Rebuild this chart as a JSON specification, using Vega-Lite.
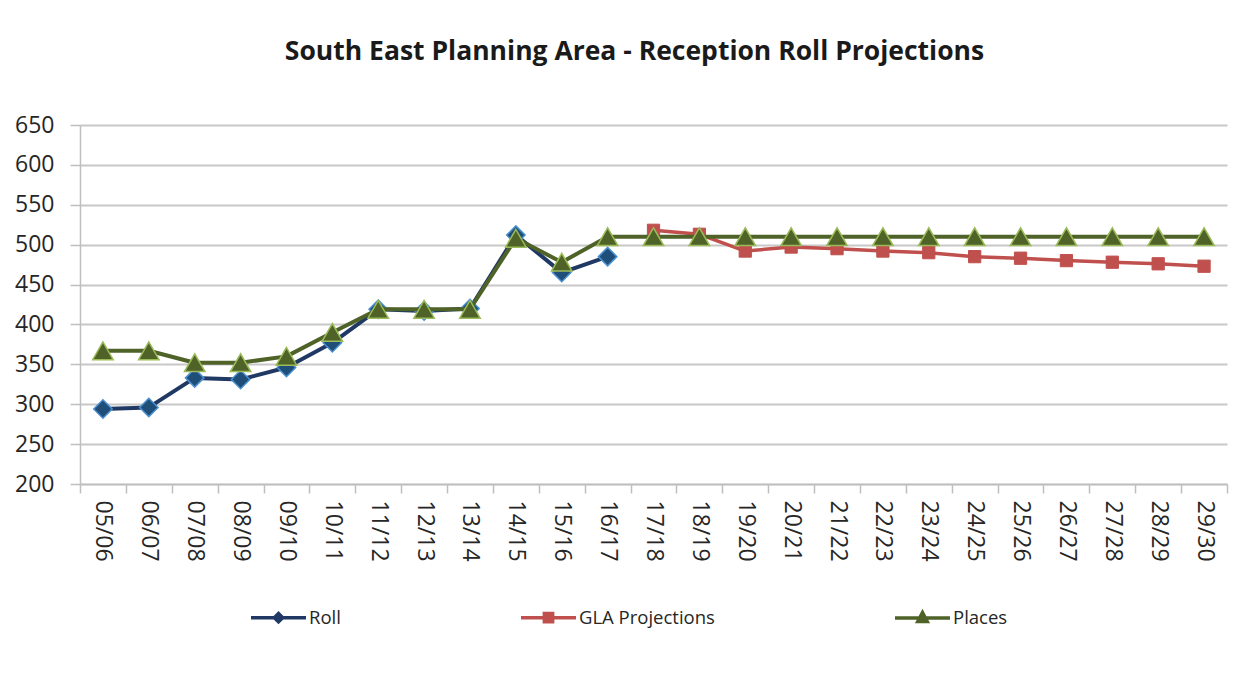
{
  "$schema": "https://vega.github.io/schema/vega-lite/v6.json",
  "width": 1147,
  "height": 359,
  "autosize": {"type": "none"},
  "padding": {"left": 80, "top": 125, "right": 24, "bottom": 195},
  "background": "white",
  "title": {
    "text": "South East Planning Area - Reception Roll Projections",
    "font": "Open Sans",
    "fontSize": 26.5,
    "fontWeight": "bold",
    "color": "#1a1a1a",
    "anchor": "middle",
    "dx": -19,
    "offset": 49
  },
  "data": {
    "values": [
      {"year": "05/06", "series": "Roll", "value": 294},
      {"year": "06/07", "series": "Roll", "value": 296},
      {"year": "07/08", "series": "Roll", "value": 333},
      {"year": "08/09", "series": "Roll", "value": 331},
      {"year": "09/10", "series": "Roll", "value": 346},
      {"year": "10/11", "series": "Roll", "value": 377},
      {"year": "11/12", "series": "Roll", "value": 419},
      {"year": "12/13", "series": "Roll", "value": 417},
      {"year": "13/14", "series": "Roll", "value": 420},
      {"year": "14/15", "series": "Roll", "value": 512},
      {"year": "15/16", "series": "Roll", "value": 465},
      {"year": "16/17", "series": "Roll", "value": 485},
      {"year": "17/18", "series": "GLA Projections", "value": 518},
      {"year": "18/19", "series": "GLA Projections", "value": 513},
      {"year": "19/20", "series": "GLA Projections", "value": 492},
      {"year": "20/21", "series": "GLA Projections", "value": 497},
      {"year": "21/22", "series": "GLA Projections", "value": 495},
      {"year": "22/23", "series": "GLA Projections", "value": 492},
      {"year": "23/24", "series": "GLA Projections", "value": 490},
      {"year": "24/25", "series": "GLA Projections", "value": 485},
      {"year": "25/26", "series": "GLA Projections", "value": 483},
      {"year": "26/27", "series": "GLA Projections", "value": 480},
      {"year": "27/28", "series": "GLA Projections", "value": 478},
      {"year": "28/29", "series": "GLA Projections", "value": 476},
      {"year": "29/30", "series": "GLA Projections", "value": 473},
      {"year": "05/06", "series": "Places", "value": 367},
      {"year": "06/07", "series": "Places", "value": 367},
      {"year": "07/08", "series": "Places", "value": 352},
      {"year": "08/09", "series": "Places", "value": 352},
      {"year": "09/10", "series": "Places", "value": 360},
      {"year": "10/11", "series": "Places", "value": 390},
      {"year": "11/12", "series": "Places", "value": 419},
      {"year": "12/13", "series": "Places", "value": 419},
      {"year": "13/14", "series": "Places", "value": 419},
      {"year": "14/15", "series": "Places", "value": 508},
      {"year": "15/16", "series": "Places", "value": 478},
      {"year": "16/17", "series": "Places", "value": 510},
      {"year": "17/18", "series": "Places", "value": 510},
      {"year": "18/19", "series": "Places", "value": 510},
      {"year": "19/20", "series": "Places", "value": 510},
      {"year": "20/21", "series": "Places", "value": 510},
      {"year": "21/22", "series": "Places", "value": 510},
      {"year": "22/23", "series": "Places", "value": 510},
      {"year": "23/24", "series": "Places", "value": 510},
      {"year": "24/25", "series": "Places", "value": 510},
      {"year": "25/26", "series": "Places", "value": 510},
      {"year": "26/27", "series": "Places", "value": 510},
      {"year": "27/28", "series": "Places", "value": 510},
      {"year": "28/29", "series": "Places", "value": 510},
      {"year": "29/30", "series": "Places", "value": 510}
    ]
  },
  "encoding": {
    "x": {
      "field": "year",
      "type": "nominal",
      "bandPosition": 0.5,
      "scale": {
        "type": "band",
        "paddingInner": 0,
        "paddingOuter": 0,
        "domain": ["05/06","06/07","07/08","08/09","09/10","10/11","11/12","12/13","13/14","14/15","15/16","16/17","17/18","18/19","19/20","20/21","21/22","22/23","23/24","24/25","25/26","26/27","27/28","28/29","29/30"]
      },
      "axis": {
        "title": null,
        "tickBand": "extent",
        "tickSize": 9,
        "tickColor": "#BFBFBF",
        "tickWidth": 1.5,
        "domainColor": "#BFBFBF",
        "domainWidth": 1.5,
        "labelAngle": 90,
        "labelPadding": 7,
        "labelFont": "Open Sans",
        "labelFontSize": 23,
        "labelColor": "#262626",
        "labelOverlap": false,
        "labelFlush": false,
        "grid": false
      }
    },
    "y": {
      "field": "value",
      "type": "quantitative",
      "scale": {"domain": [200, 650], "nice": false, "zero": false},
      "axis": {
        "title": null,
        "values": [200, 250, 300, 350, 400, 450, 500, 550, 600, 650],
        "tickSize": 10,
        "tickColor": "#BFBFBF",
        "tickWidth": 1.5,
        "domainColor": "#BFBFBF",
        "domainWidth": 1.5,
        "grid": true,
        "gridColor": "#C8C8C8",
        "gridWidth": 2,
        "labelPadding": 16,
        "labelFont": "Open Sans",
        "labelFontSize": 23,
        "labelColor": "#262626"
      }
    }
  },
  "layer": [
    {
      "transform": [{"filter": "datum.series === 'Roll'"}],
      "layer": [
        {"mark": {"type": "line", "stroke": "#1F3864", "strokeWidth": 4, "strokeJoin": "round"}},
        {"mark": {"type": "point", "shape": "diamond", "filled": true, "fill": "#1F4E79", "stroke": "#4A90D0", "strokeWidth": 1.5, "size": 340, "opacity": 1}}
      ]
    },
    {
      "transform": [{"filter": "datum.series === 'GLA Projections'"}],
      "layer": [
        {"mark": {"type": "line", "stroke": "#C0504D", "strokeWidth": 3.5, "strokeJoin": "round"}},
        {"mark": {"type": "point", "shape": "square", "filled": true, "fill": "#C0504D", "stroke": "#C0504D", "strokeWidth": 1, "size": 150, "opacity": 1}}
      ]
    },
    {
      "transform": [{"filter": "datum.series === 'Places'"}],
      "layer": [
        {"mark": {"type": "line", "stroke": "#4F6228", "strokeWidth": 4, "strokeJoin": "round"}},
        {"mark": {"type": "point", "shape": "triangle-up", "filled": true, "fill": "#4F6228", "stroke": "#9BBB59", "strokeWidth": 1.5, "size": 420, "opacity": 1}}
      ]
    },
    {
      "mark": {"type": "point", "filled": true, "opacity": 0},
      "encoding": {
        "fill": {
          "field": "series",
          "type": "nominal",
          "scale": {"domain": ["Roll", "GLA Projections", "Places"], "range": ["#1F3864", "#C0504D", "#4F6228"]},
          "legend": {"title": null, "orient": "none", "legendX": 169, "legendY": 463, "direction": "horizontal", "columnPadding": 173}
        },
        "stroke": {
          "field": "series",
          "type": "nominal",
          "scale": {"domain": ["Roll", "GLA Projections", "Places"], "range": ["#1F3864", "#C0504D", "#4F6228"]},
          "legend": {"title": null, "orient": "none", "legendX": 169, "legendY": 463, "direction": "horizontal", "columnPadding": 173}
        },
        "shape": {
          "field": "series",
          "type": "nominal",
          "scale": {
            "domain": ["Roll", "GLA Projections", "Places"],
            "range": [
              "M-1,0H1M0,-0.15L0.15,0L0,0.15L-0.15,0Z",
              "M-1,0H1M-0.15,-0.15H0.15V0.15H-0.15Z",
              "M-1,0H1M0,-0.2L0.17,0.12H-0.17Z"
            ]
          },
          "legend": {"title": null, "orient": "none", "legendX": 169, "legendY": 463, "direction": "horizontal", "columnPadding": 173}
        }
      }
    }
  ],
  "config": {
    "view": {"stroke": null},
    "legend": {
      "symbolSize": 3025,
      "symbolStrokeWidth": 3.5,
      "symbolOpacity": 1,
      "labelFont": "Open Sans",
      "labelFontSize": 18.5,
      "labelColor": "#262626",
      "labelOffset": 1
    }
  }
}
